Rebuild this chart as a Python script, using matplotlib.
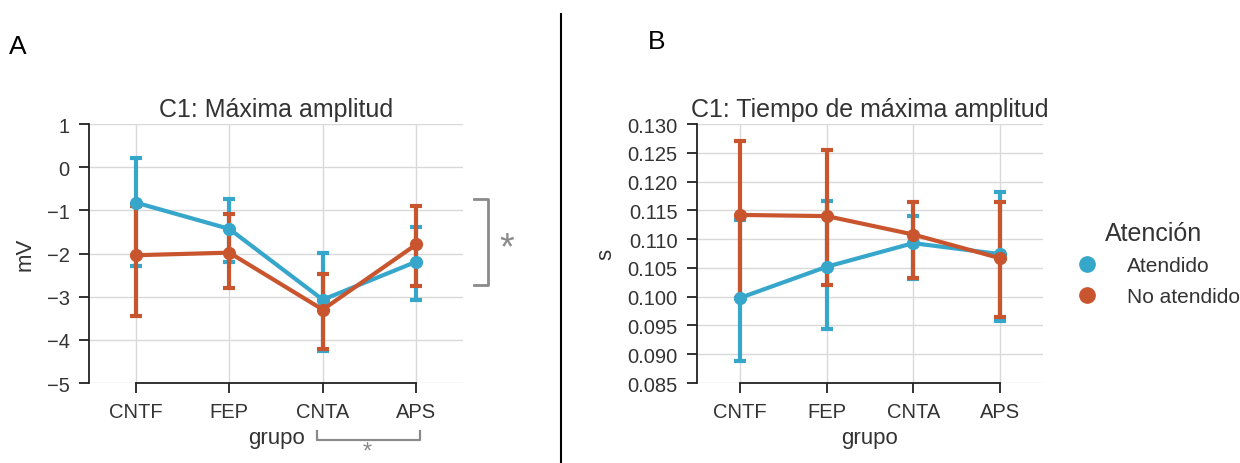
import matplotlib
matplotlib.use("Agg")
import matplotlib.pyplot as plt
from matplotlib.lines import Line2D
from matplotlib.transforms import blended_transform_factory
import numpy as np

plt.rcParams['font.family'] = ['Liberation Sans', 'DejaVu Sans']
plt.rcParams['mathtext.default'] = 'regular'

# data
grupos = ["CNTF", "FEP", "CNTA", "APS"]
series = ["Atendido", "No atendido"]
colores = ["#36a6cb", "#c9552f"]

# panel A: amplitude (mV)
amp_media = [[-0.82, -1.43, -3.07, -2.19],
             [-2.04, -1.98, -3.30, -1.79]]
amp_alto = [[0.22, -0.73, -1.98, -1.39],
            [-0.90, -1.09, -2.47, -0.91]]
amp_bajo = [[-2.29, -2.20, -4.27, -3.07],
            [-3.44, -2.81, -4.22, -2.76]]

# panel B: latency (s)
lat_media = [[0.0998, 0.1052, 0.1093, 0.1074],
             [0.1142, 0.1140, 0.1108, 0.1067]]
lat_alto = [[0.1133, 0.1167, 0.1140, 0.1181],
            [0.1270, 0.1255, 0.1165, 0.1165]]
lat_bajo = [[0.0889, 0.0944, 0.1031, 0.0957],
            [0.0998, 0.1021, 0.1032, 0.0965]]

txt = "#333333"


def point_plot(ax, media, alto, bajo):
    x = np.arange(len(grupos))
    for m, hi, lo, c in zip(media, alto, bajo, colores):
        m, hi, lo = np.array(m), np.array(hi), np.array(lo)
        ax.errorbar(x, m, yerr=[m - lo, hi - m], color=c, lw=3, elinewidth=3,
                    capsize=4.5, capthick=3, marker='o', ms=8.5, zorder=3)
    ax.set_xticks(x)
    ax.set_xticklabels(grupos)
    ax.set_xlim(-0.5, 3.5)
    ax.grid(True, color="#d9d9d9", lw=1)
    ax.set_axisbelow(True)
    for s in ["top", "right"]:
        ax.spines[s].set_visible(False)
    for s in ["left", "bottom"]:
        ax.spines[s].set_color("#222222")
        ax.spines[s].set_linewidth(1.3)
    ax.spines["bottom"].set_bounds(0, 3)
    ax.tick_params(axis='both', direction='out', length=7, width=1.3,
                   color="#222222", labelsize=14.5, labelcolor=txt, pad=7)
    ax.set_xlabel("grupo", fontsize=16, color=txt, labelpad=4)


fig = plt.figure(figsize=(12.4, 4.64), dpi=100)
ax1 = fig.add_axes([0.0718, 0.1724, 0.3016, 0.5582])
ax2 = fig.add_axes([0.5621, 0.1724, 0.2790, 0.5582])

# A
point_plot(ax1, amp_media, amp_alto, amp_bajo)
ax1.set_ylim(-5, 1)
ax1.set_yticks(range(-5, 2))
ax1.set_ylabel("mV", fontsize=16, color=txt, labelpad=8)
ax1.set_title("C1: Máxima amplitud", fontsize=18, color=txt, pad=6)

# significance brackets
gris = "#8a8a8a"
ax1.plot([3.62, 3.77, 3.77, 3.62], [-0.74, -0.74, -2.73, -2.73],
         color=gris, lw=2, clip_on=False)
ax1.text(3.97, -1.85, "$*$", fontsize=27, color=gris, ha='center', va='center')
tr = ax1.get_xaxis_transform()
ax1.plot([1.94, 1.94, 3.04, 3.04], [-0.185, -0.22, -0.22, -0.185],
         color=gris, lw=1.6, transform=tr, clip_on=False)
tr_fig = blended_transform_factory(ax1.transData, fig.transFigure)
ax1.text(2.48, 1 / 464, "$*$", fontsize=17, color=gris, ha='center',
         va='bottom', transform=tr_fig)

# B
point_plot(ax2, lat_media, lat_alto, lat_bajo)
ax2.set_ylim(0.085, 0.130)
ax2.set_yticks(np.arange(0.085, 0.1301, 0.005))
ax2.set_yticklabels([f"{v:.3f}" for v in np.arange(0.085, 0.1301, 0.005)])
ax2.set_ylabel("s", fontsize=16, color=txt, labelpad=8)
ax2.set_title("C1: Tiempo de máxima amplitud", fontsize=18, color=txt, pad=6)

handles = [Line2D([], [], ls='', marker='o', ms=11, color=c) for c in colores]
leg = fig.legend(handles, series, title="Atención", loc='center left',
                 bbox_to_anchor=(0.845, 0.43), frameon=False, fontsize=15,
                 title_fontsize=18, handletextpad=0.9, labelspacing=0.55)
for t in leg.get_texts():
    t.set_color(txt)
leg.get_title().set_color(txt)

# panel letters and divider
fig.text(18 / 1240, 1 - 47 / 464, "A", fontsize=19, ha='center', va='center')
fig.text(657 / 1240, 1 - 42 / 464, "B", fontsize=19, ha='center', va='center')
fig.add_artist(Line2D([561 / 1240, 561 / 1240], [0, 1 - 15 / 464],
                      color="black", lw=1.5))

fig.savefig("out.png", dpi=100)
